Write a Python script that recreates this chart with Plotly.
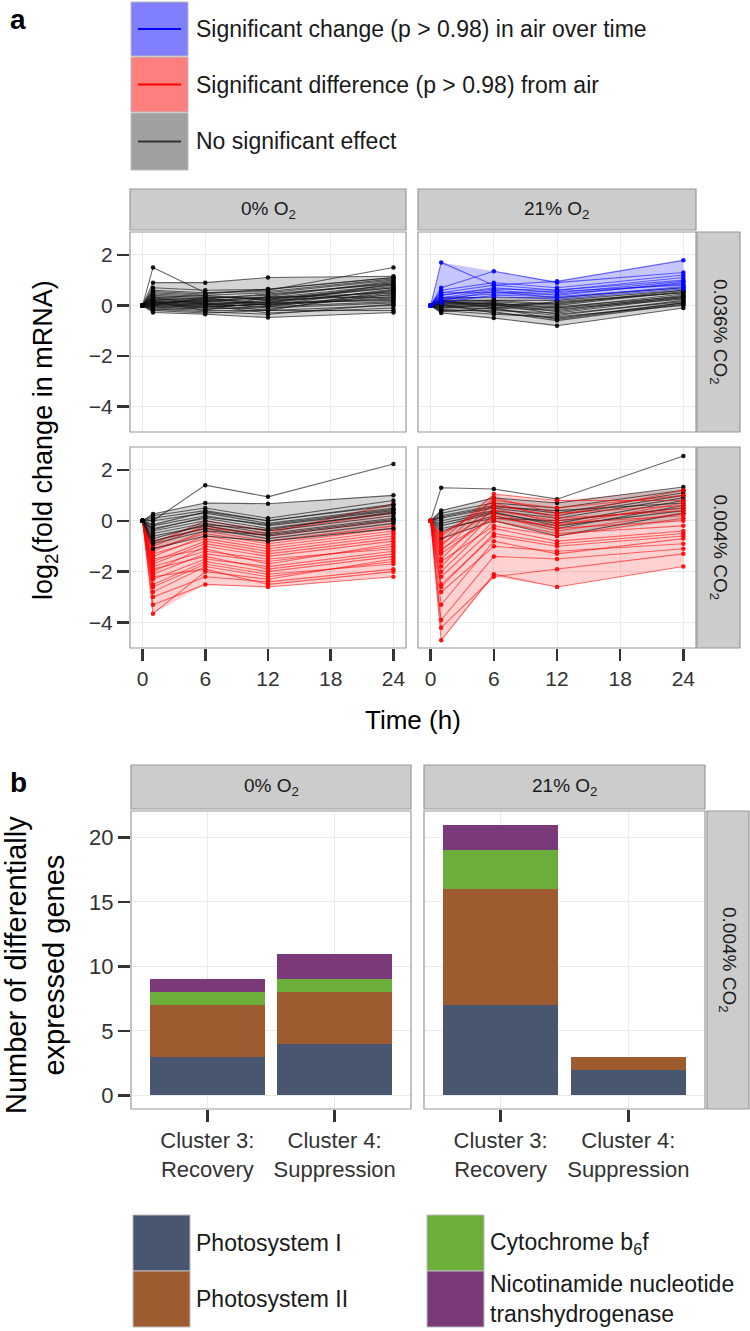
import plotly.graph_objects as go

W, H = 750, 1331
def X(p): return p / W
def Y(p): return 1 - p / H

FONT = "Liberation Sans, Arial, Helvetica, sans-serif"

# ---------------- Panel a data ----------------
times = [0, 1, 6, 12, 24]
# each row: log2 fold change at t = 1, 6, 12, 24 h (t = 0 is 0)
tl_grey = [
    [1.5, 0.5, 0.6, 1.5], [0.9, 0.9, 1.1, 1.15], [0.7, 0.6, 0.63, 1.1], [0.5, 0.4, 0.5, 1.0],
    [0.4, 0.3, 0.4, 0.9], [0.3, 0.2, 0.3, 0.8], [0.3, 0.4, 0.2, 0.7], [0.2, 0.1, 0.1, 0.6],
    [0.2, 0.3, 0.3, 0.5], [0.1, 0.0, 0.2, 0.4], [0.1, 0.2, 0.0, 0.3], [0.0, -0.1, 0.1, 0.2],
    [0.0, 0.1, -0.1, 0.1], [-0.1, -0.2, -0.2, 0.0], [-0.1, 0.0, -0.3, -0.1], [-0.2, -0.3, -0.2, -0.2],
    [-0.28, -0.35, -0.48, -0.28], [0.25, 0.15, 0.35, 0.95], [0.15, 0.05, 0.15, 0.55],
    [0.05, -0.05, 0.05, 0.35], [-0.05, -0.15, -0.05, 0.15], [0.35, 0.25, 0.45, 0.85],
    [0.45, 0.35, 0.25, 0.75], [-0.15, -0.25, -0.35, 0.05], [0.0, 0.3, 0.0, 0.65],
    [0.6, 0.5, 0.55, 1.05], [0.2, -0.1, -0.15, 0.45], [-0.2, -0.05, 0.05, 0.25],
    [0.1, 0.15, 0.25, 0.7], [0.3, 0.05, -0.05, 0.5], [0.55, 0.45, 0.65, 1.1],
    [0.05, 0.25, 0.1, 0.85], [-0.05, 0.05, -0.2, 0.6], [0.15, -0.2, 0.35, 0.3],
]
tr_blue = [
    [1.7, 0.8, 0.95, 1.78], [0.7, 1.35, 0.9, 1.3], [0.6, 0.9, 0.7, 1.2], [0.5, 0.8, 0.6, 1.0],
    [0.4, 0.7, 0.5, 0.95], [0.3, 0.6, 0.4, 0.9], [0.5, 0.5, 0.55, 0.8], [0.2, 0.55, 0.3, 0.75],
    [0.3, 0.45, 0.45, 0.85], [0.1, 0.4, 0.35, 0.7], [0.4, 0.65, 0.6, 1.1], [0.25, 0.35, 0.25, 0.65],
]
tr_grey = [
    [0.3, 0.3, 0.3, 0.7], [0.2, 0.2, 0.2, 0.6], [0.1, 0.0, 0.1, 0.5], [0.0, 0.1, -0.1, 0.45],
    [-0.1, -0.1, -0.2, 0.4], [-0.2, -0.2, -0.3, 0.3], [-0.3, -0.5, -0.8, -0.1], [0.05, -0.3, -0.5, 0.1],
    [-0.05, -0.15, -0.4, 0.2], [0.15, 0.05, -0.05, 0.35], [-0.15, -0.25, -0.6, 0.05],
    [0.1, 0.15, 0.0, 0.55], [0.0, -0.05, -0.15, 0.25], [-0.1, 0.05, -0.35, 0.15],
    [0.2, -0.1, 0.15, 0.5], [-0.2, -0.35, -0.45, 0.0], [0.05, 0.1, -0.25, 0.35],
    [-0.25, -0.1, -0.55, 0.1], [0.15, 0.2, 0.05, 0.6], [-0.05, 0.0, -0.1, 0.3],
]
bl_grey = [
    [0.0, 1.4, 0.94, 2.23], [0.27, 0.7, 0.67, 1.0], [0.2, 0.5, 0.1, 0.8], [0.1, 0.4, 0.0, 0.6],
    [0.0, 0.3, -0.1, 0.5], [-0.2, 0.2, -0.2, 0.4], [-0.3, 0.1, -0.3, 0.3], [-0.4, 0.0, -0.4, 0.2],
    [-0.5, -0.1, -0.5, 0.1], [-0.6, -0.2, -0.6, 0.0], [-0.8, -0.3, -0.7, -0.1],
    [-1.1, -0.6, -0.8, -0.3], [-0.7, -0.15, -0.35, 0.35], [-0.35, 0.15, -0.15, 0.45],
    [-0.9, -0.4, -0.55, 0.05], [-0.15, 0.35, 0.0, 0.65],
]
bl_red = [
    [-3.65, -2.0, -2.3, -1.5], [-3.3, -2.5, -2.6, -2.2], [-3.0, -2.2, -2.4, -1.9],
    [-2.8, -1.8, -2.2, -1.6], [-2.5, -1.6, -2.0, -1.4], [-2.3, -1.5, -1.8, -1.2],
    [-2.1, -1.3, -1.6, -1.0], [-2.0, -1.0, -1.4, -0.8], [-1.8, -1.2, -1.5, -1.1],
    [-1.6, -0.8, -1.2, -0.6], [-1.4, -0.6, -1.0, -0.4], [-1.2, -0.4, -0.8, -0.2],
    [-1.0, -0.2, -0.6, 0.0], [-0.9, 0.0, -0.4, 0.3], [-0.8, -0.3, -0.5, 0.67],
    [-1.5, -1.1, -1.7, -0.9], [-1.9, -1.4, -1.9, -1.3], [-2.6, -1.7, -2.1, -1.7],
    [-1.1, -0.5, -0.9, -0.3], [-1.3, -0.7, -1.1, -0.5], [-1.7, -0.9, -1.3, -0.7],
    [-2.2, -1.9, -2.5, -2.0],
]
br_grey = [
    [1.3, 1.25, 0.85, 2.55], [0.4, 0.9, 0.7, 1.33], [0.3, 0.7, 0.5, 1.2], [0.2, 0.6, 0.3, 1.1],
    [0.1, 0.5, 0.2, 1.0], [0.0, 0.4, 0.1, 0.9], [-0.2, 0.3, -0.1, 0.8], [-0.4, 0.2, -0.3, 0.6],
    [-0.7, 0.0, -0.6, 0.3], [-0.3, 0.1, 0.0, 0.5], [0.15, 0.55, 0.4, 0.7], [-0.1, 0.35, -0.2, 0.4],
]
br_red = [
    [-4.7, -2.1, -2.6, -1.8], [-4.2, -2.2, -1.9, -1.3], [-3.9, -1.4, -1.5, -1.1],
    [-2.8, -1.0, -1.2, -0.9], [-2.5, -0.6, -1.0, -0.6], [-2.2, -0.3, -0.8, -0.4],
    [-2.0, 0.0, -0.5, -0.2], [-1.8, 0.3, -0.3, 0.0], [-1.5, 0.5, -0.1, 0.2],
    [-1.2, 0.7, 0.1, 0.4], [-1.0, 0.9, 0.3, 0.6], [-0.8, 1.05, 0.8, 0.8],
    [-0.6, 0.8, 0.5, 1.0], [-0.5, 0.6, 0.2, 1.2], [-3.3, -0.8, -1.3, -0.7],
    [-1.6, -0.2, -0.6, 0.1], [-1.3, 0.2, -0.4, 0.3], [-0.9, 0.4, 0.0, 0.5],
    [-2.6, -0.5, -0.9, -0.5], [-1.1, 0.1, -0.2, 0.7],
]
# shaded interval envelopes (t = 0, 1, 6, 12, 24)
tl_grey_band = ([0, -0.28, -0.35, -0.48, -0.28], [0, 0.9, 0.9, 1.1, 1.15])
tr_blue_band = ([0, 0.1, 0.4, 0.3, 0.7], [0, 1.7, 1.35, 0.95, 1.78])
tr_grey_band = ([0, -0.3, -0.5, -0.8, -0.1], [0, 0.3, 0.3, 0.3, 0.7])
bl_grey_band = ([0, -1.1, -0.6, -0.8, -0.3], [0, 0.27, 0.7, 0.67, 1.0])
bl_red_band = ([0, -3.65, -2.5, -2.6, -2.2], [0, -0.8, 0.0, -0.3, 0.67])
br_grey_band = ([0, -0.7, 0.0, -0.6, 0.0], [0, 0.4, 0.9, 0.7, 1.33])
br_red_band = ([0, -4.7, -2.2, -2.6, -1.8], [0, -0.5, 1.05, 0.8, 1.25])

a_xticks = [0, 6, 12, 18, 24]
a_yticks = [-4, -2, 0, 2]

# ---------------- Panel b data ----------------
clusters = ["Cluster 3:<br>Recovery", "Cluster 4:<br>Suppression"]
groups = ["Photosystem I", "Photosystem II", "Cytochrome b<sub>6</sub>f",
          "Nicotinamide nucleotide<br>transhydrogenase"]
o2_0 = {"Photosystem I": [3, 4], "Photosystem II": [4, 4], "Cyt": [1, 1], "NNT": [1, 2]}
o2_21 = {"Photosystem I": [7, 2], "Photosystem II": [9, 1], "Cyt": [3, 0], "NNT": [2, 0]}
b_yticks = [0, 5, 10, 15, 20]

bar_colors = ["#485670", "#9E5B2F", "#6BAE3A", "#7A3A7A"]

fig = go.Figure()

GREY_L, GREY_M, GREY_F = "rgba(20,20,20,0.65)", "rgba(0,0,0,0.9)", "rgba(120,120,120,0.32)"
RED_L, RED_M, RED_F = "rgba(255,0,0,0.55)", "rgba(255,0,0,0.9)", "rgba(255,0,0,0.18)"
BLUE_L, BLUE_M, BLUE_F = "rgba(0,0,255,0.55)", "rgba(0,0,255,0.9)", "rgba(0,0,255,0.22)"

def add_band(band, color, xa, ya):
    lo, hi = band
    fig.add_trace(go.Scatter(x=times, y=hi, mode="lines", line=dict(width=0, color=color),
                             xaxis=xa, yaxis=ya, showlegend=False, hoverinfo="skip"))
    fig.add_trace(go.Scatter(x=times, y=lo, mode="lines", line=dict(width=0, color=color),
                             fill="tonexty", fillcolor=color,
                             xaxis=xa, yaxis=ya, showlegend=False, hoverinfo="skip"))

def add_lines(rows, lcol, mcol, xa, ya):
    xs, ys = [], []
    for r in rows:
        xs += times + [None]
        ys += [0] + list(r) + [None]
    fig.add_trace(go.Scatter(x=xs, y=ys, mode="lines+markers",
                             line=dict(color=lcol, width=1.1),
                             marker=dict(color=mcol, size=4.5),
                             xaxis=xa, yaxis=ya, showlegend=False, connectgaps=False))

# TL
add_band(tl_grey_band, GREY_F, "x", "y")
add_lines(tl_grey, GREY_L, GREY_M, "x", "y")
# TR
add_band(tr_grey_band, GREY_F, "x2", "y2")
add_band(tr_blue_band, BLUE_F, "x2", "y2")
add_lines(tr_grey, GREY_L, GREY_M, "x2", "y2")
add_lines(tr_blue, BLUE_L, BLUE_M, "x2", "y2")
# BL
add_band(bl_red_band, RED_F, "x3", "y3")
add_band(bl_grey_band, GREY_F, "x3", "y3")
add_lines(bl_red, RED_L, RED_M, "x3", "y3")
add_lines(bl_grey, GREY_L, GREY_M, "x3", "y3")
# BR
add_band(br_red_band, RED_F, "x4", "y4")
add_band(br_grey_band, GREY_F, "x4", "y4")
add_lines(br_grey, GREY_L, GREY_M, "x4", "y4")
add_lines(br_red, RED_L, RED_M, "x4", "y4")

# Bars
keys = ["Photosystem I", "Photosystem II", "Cyt", "NNT"]
for data, xa, ya in [(o2_0, "x5", "y5"), (o2_21, "x6", "y6")]:
    for k, g, c in zip(keys, groups, bar_colors):
        fig.add_trace(go.Bar(x=clusters, y=data[k], name=g, marker=dict(color=c, line=dict(width=0)),
                             width=0.9, xaxis=xa, yaxis=ya, showlegend=False))

# ---------------- Layout ----------------
TICKFONT = dict(family=FONT, size=21, color="#333333")
grid = "#EBEBEB"

def xa_a(l, r, show):
    return dict(domain=[X(l), X(r)], range=[-1.2, 25.2], tickvals=a_xticks, showgrid=True,
                gridcolor=grid, gridwidth=1, zeroline=False, showline=False,
                ticks="outside" if show else "", ticklen=12, tickwidth=2.5, tickcolor="#333333",
                showticklabels=show, tickfont=TICKFONT, fixedrange=True)

def ya_a(t, b, show, anchor):
    return dict(domain=[Y(b), Y(t)], range=[-5.0, 2.9], tickvals=a_yticks, showgrid=True,
                gridcolor=grid, gridwidth=1, zeroline=False, showline=False,
                ticks="outside" if show else "", ticklen=12, tickwidth=2.5, tickcolor="#333333",
                showticklabels=show, tickfont=TICKFONT, anchor=anchor, fixedrange=True)

A_L, A_R = (130, 406), (418, 696)
A_T, A_B = (232, 432), (447, 648)
B_L, B_R = (131, 411), (424, 705)
B_Y = (811, 1109)

layout = dict(
    width=W, height=H, margin=dict(l=0, r=0, t=0, b=0),
    paper_bgcolor="white", plot_bgcolor="white", barmode="stack", bargap=0.1,
    showlegend=False, font=dict(family=FONT, color="#1A1A1A"),
    xaxis=dict(xa_a(*A_L, False), anchor="y"),
    yaxis=ya_a(*A_T, True, "x"),
    xaxis2=dict(xa_a(*A_R, False), anchor="y2"),
    yaxis2=ya_a(*A_T, False, "x2"),
    xaxis3=dict(xa_a(*A_L, True), anchor="y3"),
    yaxis3=ya_a(*A_B, True, "x3"),
    xaxis4=dict(xa_a(*A_R, True), anchor="y4"),
    yaxis4=ya_a(*A_B, False, "x4"),
)
BFONT = dict(family=FONT, size=22, color="#333333")
for i, (l, r), showy in [(5, B_L, True), (6, B_R, False)]:
    layout[f"xaxis{i}"] = dict(domain=[X(l), X(r)], type="category", categoryarray=clusters,
                               range=[-0.6, 1.6], showgrid=True, gridcolor=grid, zeroline=False,
                               showline=False, ticks="outside", ticklen=12, tickwidth=2.5,
                               tickcolor="#333333", tickfont=BFONT,
                               anchor=f"y{i}", fixedrange=True)
    layout[f"yaxis{i}"] = dict(domain=[Y(B_Y[1]), Y(B_Y[0])], range=[-1.05, 22.05], tickvals=b_yticks,
                               showgrid=True, gridcolor=grid, zeroline=False, showline=False,
                               ticks="outside" if showy else "", ticklen=12, tickwidth=2.5,
                               tickcolor="#333333", showticklabels=showy, tickfont=BFONT,
                               anchor=f"x{i}", fixedrange=True)
fig.update_layout(**layout)

shapes = []
ann = []

def rect(x0, y0, x1, y1, fill=None, line="#999999", lw=1.2, layer="above"):
    shapes.append(dict(type="rect", xref="paper", yref="paper", x0=X(x0), x1=X(x1),
                       y0=Y(y1), y1=Y(y0), fillcolor=fill if fill else "rgba(0,0,0,0)",
                       line=dict(color=line, width=lw), layer=layer))

def text(x, y, s, size, xanchor="center", angle=0, bold=False, color="#1A1A1A", align="center"):
    ann.append(dict(x=X(x), y=Y(y), xref="paper", yref="paper", text=f"<b>{s}</b>" if bold else s,
                    showarrow=False, xanchor=xanchor, yanchor="middle", textangle=angle,
                    align=align, borderpad=0,
                    font=dict(family=FONT, size=size, color=color)))

STRIP = "#CCCCCC"
# Panel a borders and strips
for (l, r) in (A_L, A_R):
    for (t, b) in (A_T, A_B):
        rect(l, t, r, b)
rect(A_L[0], 189, A_L[1], 230, STRIP)
rect(A_R[0], 189, A_R[1], 230, STRIP)
text(sum(A_L) / 2, 210, "0% O<sub>2</sub>", 19)
text(sum(A_R) / 2, 210, "21% O<sub>2</sub>", 19)
rect(697, A_T[0], 740, A_T[1], STRIP)
rect(697, A_B[0], 740, A_B[1], STRIP)
text(719, sum(A_T) / 2, "0.036% CO<sub>2</sub>", 19, angle=90)
text(719, sum(A_B) / 2, "0.004% CO<sub>2</sub>", 19, angle=90)

# Panel b borders and strips
for (l, r) in (B_L, B_R):
    rect(l, B_Y[0], r, B_Y[1])
rect(B_L[0], 765, B_L[1], 809, STRIP)
rect(B_R[0], 765, B_R[1], 809, STRIP)
text(sum(B_L) / 2, 787, "0% O<sub>2</sub>", 19)
text(sum(B_R) / 2, 787, "21% O<sub>2</sub>", 19)
rect(707, B_Y[0], 749, B_Y[1], STRIP)
text(728, sum(B_Y) / 2, "0.004% CO<sub>2</sub>", 19, angle=90)

# Panel labels and titles
text(18, 20, "a", 28, bold=True, color="#000000")
text(18, 782, "b", 28, bold=True, color="#000000")
text(45, 440, "log<sub>2</sub>(fold change in mRNA)", 27, angle=-90, color="#000000")
text(413, 720, "Time (h)", 26, color="#000000")
text(35, 965, "Number of differentially<br>expressed genes", 29, angle=-90, color="#000000")

# Legend a
leg_a = [("Significant change (p > 0.98) in air over time", "#7F7FFF", "#0000FF", 2, 56),
         ("Significant difference (p > 0.98) from air", "#FF7F7F", "#FF0000", 57, 112),
         ("No significant effect", "#A0A0A0", "#333333", 113, 170)]
for label, fill, lc, t, b in leg_a:
    rect(131, t, 188, b, fill, line="#BBBBBB", lw=1)
    shapes.append(dict(type="line", xref="paper", yref="paper", x0=X(138), x1=X(181),
                       y0=Y((t + b) / 2), y1=Y((t + b) / 2), line=dict(color=lc, width=2)))
    text(195, (t + b) / 2, label, 23, xanchor="left", color="#1A1A1A", align="left")

# Legend b
leg_b = [(groups[0], bar_colors[0], 133, 1215, 1271),
         (groups[1], bar_colors[1], 133, 1271, 1327),
         (groups[2], bar_colors[2], 427, 1215, 1271),
         (groups[3], bar_colors[3], 427, 1271, 1327)]
for label, c, x0, t, b in leg_b:
    rect(x0, t, x0 + 57, b, c, line="#BBBBBB", lw=1)
    text(x0 + 62, (t + b) / 2, label, 23, xanchor="left", color="#1A1A1A", align="left")

fig.update_layout(shapes=shapes, annotations=ann)
fig.write_html("out.html", config={"displayModeBar": False, "staticPlot": True},
               post_script="document.body.style.margin='0';document.body.style.padding='0';"
                           "document.documentElement.style.overflow='hidden';")
